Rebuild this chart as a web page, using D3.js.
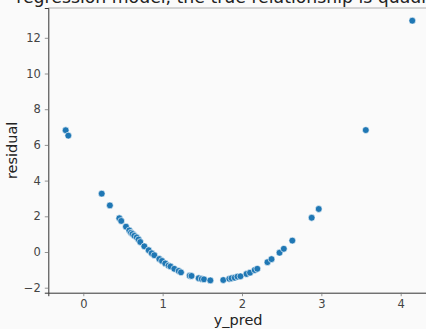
<!DOCTYPE html>
<html>
<head>
<meta charset="utf-8">
<script src="https://cdn.jsdelivr.net/npm/d3@7"></script>
<style>
  html, body { margin: 0; padding: 0; background: #fafafa; }
  svg { display: block; font-family: "DejaVu Sans", sans-serif; }
</style>
</head>
<body>
<svg id="chart" width="426" height="329"></svg>
<script>
// predicted values (x) and residuals (y)
const yPred = [-0.222, -0.189, 0.232, 0.335, 0.454, 0.478, 0.538, 0.580, 0.601, 0.620,
  0.643, 0.673, 0.696, 0.718, 0.769, 0.824, 0.862, 0.895, 0.958, 0.992,
  1.033, 1.074, 1.099, 1.147, 1.202, 1.231, 1.341, 1.364, 1.454, 1.492,
  1.521, 1.601, 1.764, 1.840, 1.868, 1.908, 1.943, 1.981, 2.057, 2.101,
  2.160, 2.193, 2.321, 2.372, 2.473, 2.527, 2.634, 2.878, 2.967, 3.560, 4.146];
const residual = [6.82, 6.52, 3.27, 2.61, 1.89, 1.74, 1.42, 1.21, 1.08, 1.01,
  0.91, 0.82, 0.70, 0.56, 0.32, 0.10, -0.07, -0.18, -0.39, -0.50,
  -0.64, -0.76, -0.81, -0.94, -1.06, -1.14, -1.33, -1.34, -1.47, -1.51,
  -1.53, -1.59, -1.57, -1.50, -1.47, -1.44, -1.38, -1.36, -1.23, -1.16,
  -1.01, -0.94, -0.57, -0.40, -0.04, 0.18, 0.64, 1.92, 2.41, 6.83, 12.96];
const xTicks = [0, 1, 2, 3, 4];
const yTicks = [-2, 0, 2, 4, 6, 8, 10, 12];
const title = "regression model, the true relationship is quadratic";

const svg = d3.select("#chart");
const mLeft = 48.3, mRight = 428, mTop = 8, mBottom = 292.7;

const x = d3.scaleLinear().domain([-0.441, 4.344]).range([mLeft, mRight]);
const y = d3.scaleLinear().domain([-2.28, 13.67]).range([mBottom, mTop]);

svg.append("rect")
    .attr("width", 426).attr("height", 329)
    .attr("fill", "#fafafa");

// top spine (light)
svg.append("line")
    .attr("x1", mLeft).attr("x2", mRight)
    .attr("y1", mTop).attr("y2", mTop)
    .attr("stroke", "#999").attr("stroke-width", 0.8);

const xAxis = svg.append("g")
    .attr("transform", `translate(0,${mBottom})`)
    .call(d3.axisBottom(x).tickValues(xTicks).tickSize(3.5).tickPadding(4).tickFormat(d3.format("d")));
const yAxis = svg.append("g")
    .attr("transform", `translate(${mLeft},0)`)
    .call(d3.axisLeft(y).tickValues(yTicks).tickSize(3.5).tickPadding(4)
      .tickFormat(d => d < 0 ? "\u2212" + Math.abs(d) : d));

[xAxis, yAxis].forEach(g => {
  g.select(".domain").attr("stroke", "#333").attr("stroke-width", 1);
  g.selectAll(".tick line").attr("stroke", "#777").attr("stroke-width", 0.8);
  g.selectAll(".tick text")
      .attr("fill", "#444")
      .style("font-size", "11.5px")
      .style("font-family", "DejaVu Sans, sans-serif");
});

// points
svg.append("g")
    .attr("stroke", "#fff")
    .attr("stroke-width", 0.6)
  .selectAll("circle")
  .data(yPred.map((d, i) => ({x: d, y: residual[i]})))
  .join("circle")
    .attr("cx", d => x(d.x))
    .attr("cy", d => y(d.y))
    .attr("r", 3.4)
    .attr("fill", "#1f77b4");

// labels
svg.append("text")
    .attr("x", (mLeft + mRight) / 2)
    .attr("y", 325)
    .attr("text-anchor", "middle")
    .attr("fill", "#222")
    .style("font-size", "14.5px")
    .text("y_pred");

svg.append("text")
    .attr("transform", `translate(17,${(mTop + mBottom) / 2}) rotate(-90)`)
    .attr("text-anchor", "middle")
    .attr("fill", "#222")
    .style("font-size", "14.5px")
    .text("residual");

svg.append("text")
    .attr("x", (mLeft + mRight) / 2)
    .attr("y", 3)
    .attr("text-anchor", "middle")
    .attr("fill", "#222")
    .style("font-size", "17.3px")
    .text(title);
</script>
</body>
</html>
